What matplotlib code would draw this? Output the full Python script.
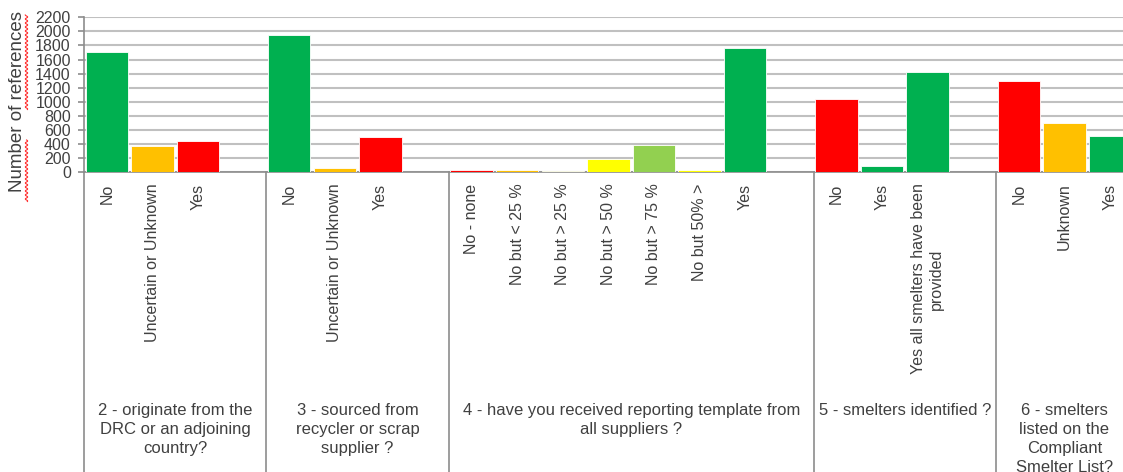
import matplotlib
matplotlib.use("Agg")
import matplotlib.pyplot as plt
import numpy as np
from matplotlib.lines import Line2D

plt.rcParams['font.family'] = ['Liberation Sans', 'DejaVu Sans']

questions = [
    "2 - originate from the\nDRC or an adjoining\ncountry?",
    "3 - sourced from\nrecycler or scrap\nsupplier ?",
    "4 - have you received reporting template from\nall suppliers ?",
    "5 - smelters identified ?",
    "6 - smelters\nlisted on the\nCompliant\nSmelter List?",
]
answers = [
    ["No", "Uncertain or Unknown", "Yes"],
    ["No", "Uncertain or Unknown", "Yes"],
    ["No - none", "No but < 25 %", "No but > 25 %", "No but > 50 %",
     "No but > 75 %", "No but 50% >", "Yes"],
    ["No", "Yes", "Yes all smelters have been\nprovided"],
    ["No", "Unknown", "Yes"],
]
counts = [
    [1710, 380, 450],
    [1950, 57, 500],
    [37, 33, 23, 185, 385, 30, 1760],
    [1040, 85, 1420],
    [1300, 695, 520],
]

GREEN, ORANGE, RED = '#00B050', '#FFC000', '#FF0000'
YELLOW, LGREEN = '#FFFF00', '#92D050'
bar_colors = [
    [GREEN, ORANGE, RED],
    [GREEN, ORANGE, RED],
    [RED, ORANGE, YELLOW, YELLOW, LGREEN, YELLOW, GREEN],
    [RED, GREEN, GREEN],
    [RED, ORANGE, GREEN],
]

TEXT = '#404040'
W, H = 1123, 472
fig = plt.figure(figsize=(W / 100, H / 100), dpi=100)
slot = 45.6
ax = fig.add_axes([84 / W, (H - 172.3) / H, 23 * slot / W, 155 / H])

# lay the groups out side by side, one empty slot between them
xs, labels, vals, cols, seps, centers = [], [], [], [], [], []
pos = 0
for gi, (ans, cnt, col) in enumerate(zip(answers, counts, bar_colors)):
    start = pos
    for i, (a, c, k) in enumerate(zip(ans, cnt, col)):
        xs.append(pos + i + 0.5)
        labels.append(a)
        vals.append(c)
        cols.append(k)
    if gi < len(answers) - 1:
        pos += len(ans) + 1
        seps.append(pos)
    else:
        pos += len(ans)
    centers.append((start + pos) / 2)

ax.bar(xs, vals, width=0.93, color=cols, edgecolor='white', linewidth=0.6, zorder=3)

ax.set_xlim(0, 23)
ax.set_ylim(0, 2200)
ax.set_yticks(np.arange(0, 2201, 200))
ax.yaxis.grid(True, color='#c0c0c0', linewidth=1.5, zorder=0)
ax.set_axisbelow(True)

for s in ['top', 'right']:
    ax.spines[s].set_visible(False)
for s in ['left', 'bottom']:
    ax.spines[s].set_color('#8c8c8c')
    ax.spines[s].set_linewidth(1.2)

ax.tick_params(axis='y', direction='out', length=4.5, width=1.2, color='#8c8c8c',
               labelsize=11.5, labelcolor=TEXT, pad=5)
ax.set_xticks(xs)
ax.set_xticklabels(labels, rotation=90, ha='center', va='top', fontsize=11.5, color=TEXT)
ax.tick_params(axis='x', length=0, pad=8)

# category table lines below the plot
trans = ax.get_xaxis_transform()
for x in [0] + seps:
    ax.plot([x, x], [0, -2.1], transform=trans, color='#8c8c8c', lw=1.2, clip_on=False)

for c, q in zip(centers, questions):
    ax.text(c, -1.49, q, transform=trans, ha='center', va='top', fontsize=12,
            color=TEXT, linespacing=1.32)

fig.text(18 / W, 1 - 102 / H, "Number of references", rotation=90, ha='center',
         va='center', fontsize=13.5, color=TEXT)

# spell-check squiggles under the axis title
for y0, y1 in [(15, 110), (140, 202)]:
    t = np.arange(y0, y1, 0.5)
    xw = 26.5 + 1.2 * np.sin(2 * np.pi * t / 4)
    fig.add_artist(Line2D(xw / W, 1 - t / H, color='#ff3030', lw=0.8))

fig.savefig("out.png", dpi=100)
